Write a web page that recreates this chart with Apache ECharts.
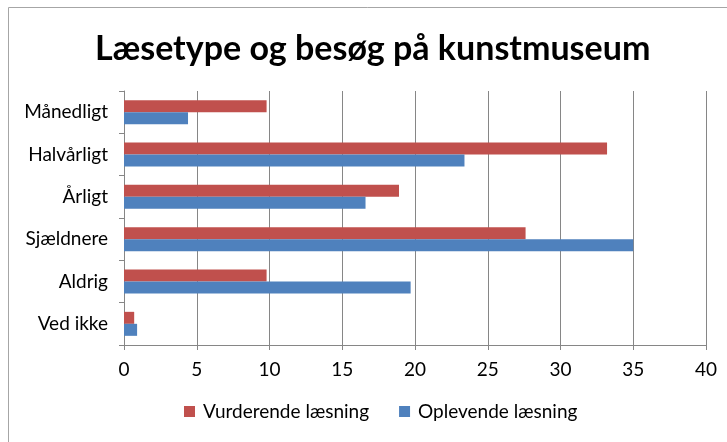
<!DOCTYPE html>
<html>
<head>
<meta charset="utf-8">
<script src="https://cdn.jsdelivr.net/npm/echarts@6/dist/echarts.min.js"></script>
<style>
  html, body { margin: 0; padding: 0; background: #fff; }
  #chart { width: 727px; height: 442px; }
</style>
</head>
<body>
<div id="chart"></div>
<script>
// data
const categories = ['Månedligt', 'Halvårligt', 'Årligt', 'Sjældnere', 'Aldrig', 'Ved ikke'];
const vurderende = [9.8, 33.2, 18.9, 27.6, 9.8, 0.7];
const oplevende = [4.4, 23.4, 16.6, 35.0, 19.7, 0.9];
const seriesNames = ['Vurderende læsning', 'Oplevende læsning'];

const font = 'Lato, "Open Sans", sans-serif';
let chart = echarts.init(document.getElementById('chart'));

let option = {
  backgroundColor: '#fff',
  title: {
    text: 'Læsetype og besøg på kunstmuseum',
    left: 90,
    top: 27,
    textStyle: { fontFamily: font, fontSize: 34, fontWeight: 'bold', color: '#000' }
  },
  legend: {
    data: seriesNames,
    bottom: 16,
    left: 179,
    icon: 'rect',
    itemWidth: 11,
    itemHeight: 11,
    itemGap: 30,
    textStyle: { fontFamily: font, fontSize: 19, color: '#000', padding: [0, 0, 0, 3] }
  },
  grid: { left: 124, right: 21, top: 91, bottom: 97 },
  xAxis: {
    type: 'value',
    min: 0,
    max: 40,
    interval: 5,
    axisLine: { show: true, lineStyle: { color: '#868686' } },
    axisTick: { show: true, length: 5, lineStyle: { color: '#868686' } },
    splitLine: { show: true, lineStyle: { color: '#868686', width: 1 } },
    axisLabel: { fontFamily: font, fontSize: 19, color: '#000', margin: 15 }
  },
  yAxis: {
    type: 'category',
    data: categories,
    inverse: true,
    axisLine: { show: true, lineStyle: { color: '#868686' } },
    axisTick: { show: true, length: 5, lineStyle: { color: '#868686' } },
    axisLabel: { fontFamily: font, fontSize: 19, color: '#000', margin: 16 }
  },
  series: [{
    name: seriesNames[0],
    type: 'bar',
    data: vurderende,
    barWidth: 12,
    barGap: '0%',
    itemStyle: { color: '#c0504d' }
  }, {
    name: seriesNames[1],
    type: 'bar',
    data: oplevende,
    barWidth: 12,
    barGap: '0%',
    itemStyle: { color: '#4f81bd' }
  }],
  // chart frame: only the top and left edges show in the picture
  graphic: [{
    type: 'polyline',
    shape: { points: [[8.5, 442], [8.5, 7.5], [727, 7.5]] },
    style: { fill: 'none', stroke: '#a6a6a6', lineWidth: 1 },
    silent: true
  }]
};
chart.setOption(option);
</script>
</body>
</html>
